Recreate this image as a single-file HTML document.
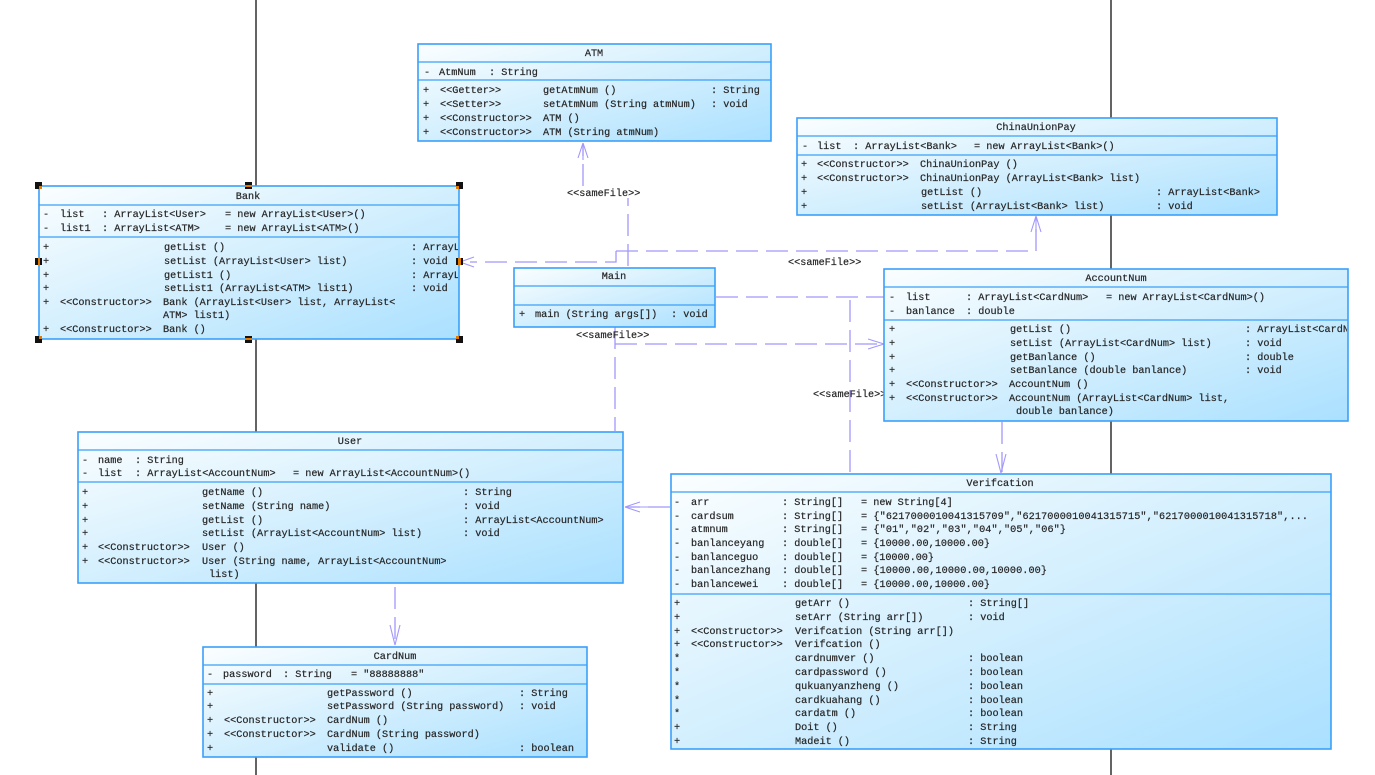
<!DOCTYPE html>
<html><head><meta charset="utf-8"><style>
html,body{margin:0;padding:0;background:#fff;width:1375px;height:775px;overflow:hidden}
svg{display:block}
text{font-family:"Liberation Mono",monospace;font-size:10.2px;fill:#262626;stroke:#262626;stroke-width:.2px;white-space:pre}
.c{text-anchor:middle}
.b{fill:url(#g);stroke:#3aa0f8;stroke-width:1.6}
.d{stroke:#3aa0f8;stroke-width:1.3;fill:none}
.k{stroke:#111;stroke-width:1.3;fill:none}
.l{stroke:#a298fc;stroke-width:1.3;fill:none;stroke-dasharray:22 8}
.s{stroke:#a298fc;stroke-width:1.1;fill:none}
.h{fill:#111}.o{fill:#e07b00}
</style></head><body>
<svg width="1375" height="775" viewBox="0 0 1375 775" xmlns="http://www.w3.org/2000/svg">
<defs>
<linearGradient id="g" x1="0" y1="0" x2="1" y2="1"><stop offset="0" stop-color="#fbfeff"/><stop offset="0.5" stop-color="#d3effe"/><stop offset="1" stop-color="#aae0ff"/></linearGradient>
<clipPath id="cb"><rect x="40" y="186" width="418" height="153"/></clipPath>
<clipPath id="ca"><rect x="885" y="269" width="462" height="152"/></clipPath>
</defs>

<path class="k" d="M256 0V775M1111 0V775"/>

<!-- connectors -->
<path class="l" d="M628 266V198"/>
<path class="l" d="M583 186V146"/>
<path class="s" d="M583 143L578 158M583 143L588 158M583 143V160"/>
<path class="l" d="M616 251V262H470"/>
<path class="s" d="M460 262L474 257M460 262L474 267"/>
<path class="l" d="M616 251H1036V220"/>
<path class="s" d="M1036 216L1031 232M1036 216L1041 232M1036 216V232"/>
<path class="l" d="M716 297H884"/>
<path class="l" d="M850 300V474"/>
<path class="l" d="M615 344H882"/>
<path class="l" d="M615 327V431"/>
<path class="s" d="M884 344L868 339M884 344L868 349"/>
<path class="l" d="M1002 422V472"/>
<path class="s" d="M1001 473L996 454M1001 473L1006 454"/>
<path class="l" d="M670 507H628"/>
<path class="s" d="M625 507L640 502M625 507L640 512M625 507H650"/>
<path class="l" d="M395 587V645"/>
<path class="s" d="M395 645L390 625M395 645L400 625"/>

<text x="567" y="196">&lt;&lt;sameFile&gt;&gt;</text>
<text x="788" y="265">&lt;&lt;sameFile&gt;&gt;</text>
<text x="576" y="338">&lt;&lt;sameFile&gt;&gt;</text>
<text x="813" y="397">&lt;&lt;sameFile&gt;&gt;</text>

<!-- ATM -->
<rect class="b" x="418" y="44" width="353" height="97"/>
<path class="d" d="M418 62H771M418 80H771"/>
<text class="c" x="594" y="56">ATM</text>
<text x="424" y="75">-</text><text x="439" y="75">AtmNum</text><text x="489" y="75">: String</text>
<text x="423" y="93">+</text><text x="440" y="93">&lt;&lt;Getter&gt;&gt;</text><text x="543" y="93">getAtmNum ()</text><text x="711" y="93">: String</text>
<text x="423" y="107">+</text><text x="440" y="107">&lt;&lt;Setter&gt;&gt;</text><text x="543" y="107">setAtmNum (String atmNum)</text><text x="711" y="107">: void</text>
<text x="423" y="121">+</text><text x="440" y="121">&lt;&lt;Constructor&gt;&gt;</text><text x="543" y="121">ATM ()</text>
<text x="423" y="135">+</text><text x="440" y="135">&lt;&lt;Constructor&gt;&gt;</text><text x="543" y="135">ATM (String atmNum)</text>

<!-- ChinaUnionPay -->
<rect class="b" x="797" y="118" width="480" height="97"/>
<path class="d" d="M797 136H1277M797 155H1277"/>
<text class="c" x="1036" y="130">ChinaUnionPay</text>
<text x="802" y="149">-</text><text x="817" y="149">list</text><text x="853" y="149">: ArrayList&lt;Bank&gt;</text><text x="974" y="149">= new ArrayList&lt;Bank&gt;()</text>
<text x="801" y="167">+</text><text x="817" y="167">&lt;&lt;Constructor&gt;&gt;</text><text x="920" y="167">ChinaUnionPay ()</text>
<text x="801" y="181">+</text><text x="817" y="181">&lt;&lt;Constructor&gt;&gt;</text><text x="920" y="181">ChinaUnionPay (ArrayList&lt;Bank&gt; list)</text>
<text x="801" y="195">+</text><text x="921" y="195">getList ()</text><text x="1156" y="195">: ArrayList&lt;Bank&gt;</text>
<text x="801" y="209">+</text><text x="921" y="209">setList (ArrayList&lt;Bank&gt; list)</text><text x="1156" y="209">: void</text>

<!-- Bank -->
<rect class="b" x="39" y="186" width="420" height="153"/>
<path class="d" d="M39 205H459M39 237H459"/>
<g clip-path="url(#cb)">
<text class="c" x="248" y="199">Bank</text>
<text x="43" y="217">-</text><text x="60" y="217">list</text><text x="102" y="217">: ArrayList&lt;User&gt;</text><text x="225" y="217">= new ArrayList&lt;User&gt;()</text>
<text x="43" y="231">-</text><text x="60" y="231">list1</text><text x="102" y="231">: ArrayList&lt;ATM&gt;</text><text x="225" y="231">= new ArrayList&lt;ATM&gt;()</text>
<text x="43" y="250">+</text><text x="164" y="250">getList ()</text><text x="411" y="250">: ArrayList&lt;User&gt;</text>
<text x="43" y="264">+</text><text x="164" y="264">setList (ArrayList&lt;User&gt; list)</text><text x="411" y="264">: void</text>
<text x="43" y="278">+</text><text x="164" y="278">getList1 ()</text><text x="411" y="278">: ArrayList&lt;ATM&gt;</text>
<text x="43" y="291">+</text><text x="164" y="291">setList1 (ArrayList&lt;ATM&gt; list1)</text><text x="411" y="291">: void</text>
<text x="43" y="305">+</text><text x="60" y="305">&lt;&lt;Constructor&gt;&gt;</text><text x="163" y="305">Bank (ArrayList&lt;User&gt; list, ArrayList&lt;</text>
<text x="163" y="318">ATM&gt; list1)</text>
<text x="43" y="332">+</text><text x="60" y="332">&lt;&lt;Constructor&gt;&gt;</text><text x="163" y="332">Bank ()</text>
</g>
<g class="h">
<rect x="35" y="182" width="7" height="7"/><rect x="245" y="182" width="7" height="7"/><rect x="456" y="182" width="7" height="7"/>
<rect x="35" y="258" width="7" height="7"/><rect x="456" y="258" width="7" height="7"/>
<rect x="35" y="336" width="7" height="7"/><rect x="245" y="336" width="7" height="7"/><rect x="456" y="336" width="7" height="7"/>
</g>
<g class="o">
<rect x="39" y="186" width="3" height="3"/><rect x="245" y="185" width="7" height="2"/><rect x="456" y="186" width="3" height="3"/>
<rect x="38" y="258" width="2" height="7"/><rect x="458" y="258" width="3" height="7"/>
<rect x="39" y="336" width="3" height="3"/><rect x="245" y="338" width="7" height="2"/><rect x="456" y="336" width="3" height="3"/>
</g>

<!-- Main -->
<rect class="b" x="514" y="268" width="201" height="59"/>
<path class="d" d="M514 286H715M514 305H715"/>
<text class="c" x="614" y="279">Main</text>
<text x="519" y="317">+</text><text x="535" y="317">main (String args[])</text><text x="671" y="317">: void</text>

<!-- AccountNum -->
<rect class="b" x="884" y="269" width="464" height="152"/>
<path class="d" d="M884 287H1348M884 320H1348"/>
<g clip-path="url(#ca)">
<text class="c" x="1116" y="281">AccountNum</text>
<text x="889" y="300">-</text><text x="906" y="300">list</text><text x="966" y="300">: ArrayList&lt;CardNum&gt;</text><text x="1106" y="300">= new ArrayList&lt;CardNum&gt;()</text>
<text x="889" y="314">-</text><text x="906" y="314">banlance</text><text x="966" y="314">: double</text>
<text x="889" y="332">+</text><text x="1010" y="332">getList ()</text><text x="1245" y="332">: ArrayList&lt;CardNum&gt;</text>
<text x="889" y="346">+</text><text x="1010" y="346">setList (ArrayList&lt;CardNum&gt; list)</text><text x="1245" y="346">: void</text>
<text x="889" y="360">+</text><text x="1010" y="360">getBanlance ()</text><text x="1245" y="360">: double</text>
<text x="889" y="373">+</text><text x="1010" y="373">setBanlance (double banlance)</text><text x="1245" y="373">: void</text>
<text x="889" y="387">+</text><text x="906" y="387">&lt;&lt;Constructor&gt;&gt;</text><text x="1009" y="387">AccountNum ()</text>
<text x="889" y="401">+</text><text x="906" y="401">&lt;&lt;Constructor&gt;&gt;</text><text x="1009" y="401">AccountNum (ArrayList&lt;CardNum&gt; list,</text>
<text x="1016" y="414">double banlance)</text>
</g>

<!-- User -->
<rect class="b" x="78" y="432" width="545" height="151"/>
<path class="d" d="M78 450H623M78 482H623"/>
<text class="c" x="350" y="444">User</text>
<text x="82" y="463">-</text><text x="98" y="463">name</text><text x="135" y="463">: String</text>
<text x="82" y="476">-</text><text x="98" y="476">list</text><text x="135" y="476">: ArrayList&lt;AccountNum&gt;</text><text x="293" y="476">= new ArrayList&lt;AccountNum&gt;()</text>
<text x="82" y="495">+</text><text x="202" y="495">getName ()</text><text x="463" y="495">: String</text>
<text x="82" y="509">+</text><text x="202" y="509">setName (String name)</text><text x="463" y="509">: void</text>
<text x="82" y="523">+</text><text x="202" y="523">getList ()</text><text x="463" y="523">: ArrayList&lt;AccountNum&gt;</text>
<text x="82" y="536">+</text><text x="202" y="536">setList (ArrayList&lt;AccountNum&gt; list)</text><text x="463" y="536">: void</text>
<text x="82" y="550">+</text><text x="98" y="550">&lt;&lt;Constructor&gt;&gt;</text><text x="202" y="550">User ()</text>
<text x="82" y="564">+</text><text x="98" y="564">&lt;&lt;Constructor&gt;&gt;</text><text x="202" y="564">User (String name, ArrayList&lt;AccountNum&gt;</text>
<text x="209" y="577">list)</text>

<!-- CardNum -->
<rect class="b" x="203" y="647" width="384" height="110"/>
<path class="d" d="M203 665H587M203 684H587"/>
<text class="c" x="395" y="659">CardNum</text>
<text x="207" y="677">-</text><text x="223" y="677">password</text><text x="283" y="677">: String</text><text x="351" y="677">= "88888888"</text>
<text x="207" y="696">+</text><text x="327" y="696">getPassword ()</text><text x="519" y="696">: String</text>
<text x="207" y="709">+</text><text x="327" y="709">setPassword (String password)</text><text x="519" y="709">: void</text>
<text x="207" y="723">+</text><text x="224" y="723">&lt;&lt;Constructor&gt;&gt;</text><text x="327" y="723">CardNum ()</text>
<text x="207" y="737">+</text><text x="224" y="737">&lt;&lt;Constructor&gt;&gt;</text><text x="327" y="737">CardNum (String password)</text>
<text x="207" y="751">+</text><text x="327" y="751">validate ()</text><text x="519" y="751">: boolean</text>

<!-- Verifcation -->
<rect class="b" x="671" y="474" width="660" height="275"/>
<path class="d" d="M671 492H1331M671 594H1331"/>
<text class="c" x="1000" y="486">Verifcation</text>
<text x="674" y="505">-</text><text x="691" y="505">arr</text><text x="782" y="505">: String[]</text><text x="861" y="505">= new String[4]</text>
<text x="674" y="519">-</text><text x="691" y="519">cardsum</text><text x="782" y="519">: String[]</text><text x="861" y="519" textLength="447" lengthAdjust="spacing">= {"6217000010041315709","6217000010041315715","6217000010041315718",...</text>
<text x="674" y="532">-</text><text x="691" y="532">atmnum</text><text x="782" y="532">: String[]</text><text x="861" y="532" textLength="205" lengthAdjust="spacing">= {"01","02","03","04","05","06"}</text>
<text x="674" y="546">-</text><text x="691" y="546">banlanceyang</text><text x="782" y="546">: double[]</text><text x="861" y="546" textLength="129" lengthAdjust="spacing">= {10000.00,10000.00}</text>
<text x="674" y="560">-</text><text x="691" y="560">banlanceguo</text><text x="782" y="560">: double[]</text><text x="861" y="560" textLength="73" lengthAdjust="spacing">= {10000.00}</text>
<text x="674" y="573">-</text><text x="691" y="573">banlancezhang</text><text x="782" y="573">: double[]</text><text x="861" y="573" textLength="186" lengthAdjust="spacing">= {10000.00,10000.00,10000.00}</text>
<text x="674" y="587">-</text><text x="691" y="587">banlancewei</text><text x="782" y="587">: double[]</text><text x="861" y="587" textLength="129" lengthAdjust="spacing">= {10000.00,10000.00}</text>
<text x="674" y="606">+</text><text x="795" y="606">getArr ()</text><text x="968" y="606">: String[]</text>
<text x="674" y="620">+</text><text x="795" y="620">setArr (String arr[])</text><text x="968" y="620">: void</text>
<text x="674" y="634">+</text><text x="691" y="634">&lt;&lt;Constructor&gt;&gt;</text><text x="795" y="634">Verifcation (String arr[])</text>
<text x="674" y="647">+</text><text x="691" y="647">&lt;&lt;Constructor&gt;&gt;</text><text x="795" y="647">Verifcation ()</text>
<text x="674" y="661">*</text><text x="795" y="661">cardnumver ()</text><text x="968" y="661">: boolean</text>
<text x="674" y="675">*</text><text x="795" y="675">cardpassword ()</text><text x="968" y="675">: boolean</text>
<text x="674" y="689">*</text><text x="795" y="689">qukuanyanzheng ()</text><text x="968" y="689">: boolean</text>
<text x="674" y="703">*</text><text x="795" y="703">cardkuahang ()</text><text x="968" y="703">: boolean</text>
<text x="674" y="716">*</text><text x="795" y="716">cardatm ()</text><text x="968" y="716">: boolean</text>
<text x="674" y="730">+</text><text x="795" y="730">Doit ()</text><text x="968" y="730">: String</text>
<text x="674" y="744">+</text><text x="795" y="744">Madeit ()</text><text x="968" y="744">: String</text>
</svg>
</body></html>
